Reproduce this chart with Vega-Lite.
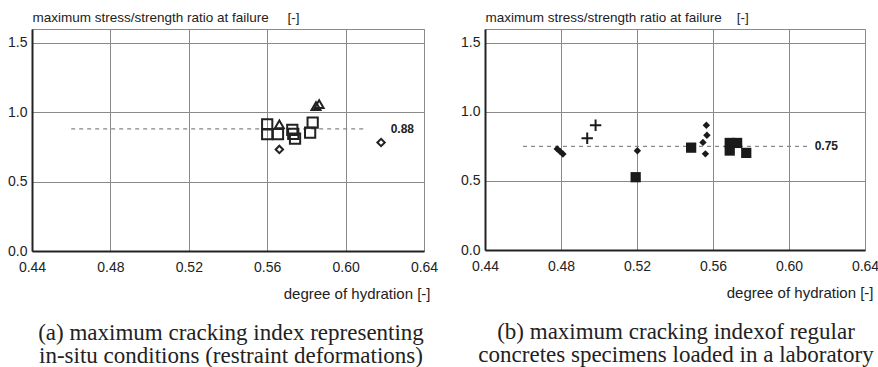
{
  "$schema": "https://vega.github.io/schema/vega-lite/v6.json",
  "padding": {"left": 7, "top": 9, "right": 0, "bottom": 0},
  "background": "white",
  "spacing": 61,
  "bounds": "flush",
  "config": {
    "view": {"stroke": "#8a8a8a", "strokeWidth": 1},
    "axis": {
      "labelFont": "Liberation Sans",
      "labelFontSize": 14,
      "labelColor": "#222",
      "titleFont": "Liberation Sans",
      "titleFontSize": 13.5,
      "titleFontWeight": "normal",
      "titleColor": "#222",
      "gridColor": "#8a8a8a",
      "gridWidth": 1,
      "gridOpacity": 1,
      "domainColor": "#222",
      "domainWidth": 2,
      "ticks": false,
      "labelPadding": 5,
      "labelFlush": false,
      "labelOverlap": false
    },
    "axisX": {"labelPadding": 9, "titleFontSize": 15},
    "title": {"font": "Liberation Serif", "fontSize": 23, "fontWeight": "normal", "color": "#222", "orient": "bottom", "anchor": "middle", "lineHeight": 23}
  },
  "hconcat": [
    {
      "width": 392,
      "height": 222,
      "title": {"text": ["(a) maximum cracking index representing", "in-situ conditions (restraint deformations)"], "dx": 3, "offset": 21},
      "layer": [
        {
          "data": {"values": [
            {"x": 0.46, "x2": 0.61, "y": 0.88}
          ]},
          "mark": {"type": "rule", "strokeDash": [4, 4], "color": "#888", "strokeWidth": 1.2},
          "encoding": {
            "x": {"field": "x", "type": "quantitative", "scale": {"domain": [0.44, 0.64]},
              "axis": {"values": [0.44, 0.48, 0.52, 0.56, 0.60, 0.64], "format": ".2f", "title": "degree of hydration [-]", "titleAlign": "right", "titleX": 398, "titleY": 47, "titleBaseline": "alphabetic"}},
            "x2": {"field": "x2"},
            "y": {"field": "y", "type": "quantitative", "scale": {"domain": [0, 1.5]},
              "axis": {"values": [0, 0.5, 1.0, 1.5], "format": ".1f", "title": "maximum stress/strength ratio at failure\u00a0\u00a0\u00a0\u00a0\u00a0[-]", "titleAngle": 0, "titleAlign": "left", "titleX": 0, "titleY": -8, "titleBaseline": "alphabetic"}}
          }
        },
        {
          "data": {"values": [
            {"x": 0.623, "y": 0.88, "label": "0.88"}
          ]},
          "mark": {"type": "text", "align": "left", "baseline": "middle", "font": "Liberation Sans", "fontSize": 12, "fontWeight": "bold", "color": "#222"},
          "encoding": {
            "x": {"field": "x", "type": "quantitative"},
            "y": {"field": "y", "type": "quantitative"},
            "text": {"field": "label"}
          }
        },
        {
          "data": {"values": [
            {"x": 0.56, "y": 0.912, "type": "square"},
            {"x": 0.56, "y": 0.842, "type": "square"},
            {"x": 0.5655, "y": 0.842, "type": "square"},
            {"x": 0.5728, "y": 0.873, "type": "square"},
            {"x": 0.5733, "y": 0.845, "type": "square"},
            {"x": 0.5742, "y": 0.81, "type": "square"},
            {"x": 0.5819, "y": 0.853, "type": "square"},
            {"x": 0.5832, "y": 0.925, "type": "square"},
            {"x": 0.5662, "y": 0.912, "type": "triangle"},
            {"x": 0.5849, "y": 1.045, "type": "triangle"},
            {"x": 0.5865, "y": 1.058, "type": "triangle"},
            {"x": 0.5662, "y": 0.732, "type": "diamond"},
            {"x": 0.6181, "y": 0.782, "type": "diamond"}
          ]},
          "mark": {"type": "point", "filled": false, "stroke": "#222", "strokeWidth": 2, "opacity": 1},
          "encoding": {
            "x": {"field": "x", "type": "quantitative"},
            "y": {"field": "y", "type": "quantitative"},
            "shape": {"field": "type", "type": "nominal", "scale": {"domain": ["square", "triangle", "diamond"], "range": ["square", "triangle-up", "diamond"]}, "legend": null},
            "size": {"field": "type", "type": "nominal", "scale": {"domain": ["square", "triangle", "diamond"], "range": [105, 55, 70]}, "legend": null}
          }
        }
      ]
    },
    {
      "width": 380,
      "height": 221,
      "title": {"text": ["(b) maximum cracking indexof regular", "concretes specimens loaded in a laboratory"], "dx": 1, "offset": 21},
      "layer": [
        {
          "data": {"values": [
            {"x": 0.46, "x2": 0.61, "y": 0.75}
          ]},
          "mark": {"type": "rule", "strokeDash": [4, 4], "color": "#888", "strokeWidth": 1.2},
          "encoding": {
            "x": {"field": "x", "type": "quantitative", "scale": {"domain": [0.44, 0.64]},
              "axis": {"values": [0.44, 0.48, 0.52, 0.56, 0.60, 0.64], "format": ".2f", "title": "degree of hydration [-]", "titleAlign": "right", "titleX": 388, "titleY": 47, "titleBaseline": "alphabetic"}},
            "x2": {"field": "x2"},
            "y": {"field": "y", "type": "quantitative", "scale": {"domain": [0, 1.5]},
              "axis": {"values": [0, 0.5, 1.0, 1.5], "format": ".1f", "title": "maximum stress/strength ratio at failure\u00a0\u00a0\u00a0\u00a0[-]", "titleAngle": 0, "titleAlign": "left", "titleX": 0, "titleY": -8, "titleBaseline": "alphabetic"}}
          }
        },
        {
          "data": {"values": [
            {"x": 0.6135, "y": 0.75, "label": "0.75"}
          ]},
          "mark": {"type": "text", "align": "left", "baseline": "middle", "font": "Liberation Sans", "fontSize": 12, "fontWeight": "bold", "color": "#222"},
          "encoding": {
            "x": {"field": "x", "type": "quantitative"},
            "y": {"field": "y", "type": "quantitative"},
            "text": {"field": "label"}
          }
        },
        {
          "data": {"values": [
            {"x": 0.4780, "y": 0.732, "type": "diamond"},
            {"x": 0.4795, "y": 0.714, "type": "diamond"},
            {"x": 0.4810, "y": 0.695, "type": "diamond"},
            {"x": 0.5202, "y": 0.718, "type": "diamond"},
            {"x": 0.5565, "y": 0.903, "type": "diamond"},
            {"x": 0.5568, "y": 0.831, "type": "diamond"},
            {"x": 0.5547, "y": 0.779, "type": "diamond"},
            {"x": 0.5560, "y": 0.696, "type": "diamond"},
            {"x": 0.5193, "y": 0.527, "type": "square"},
            {"x": 0.5485, "y": 0.741, "type": "square"},
            {"x": 0.5688, "y": 0.775, "type": "square"},
            {"x": 0.5727, "y": 0.775, "type": "square"},
            {"x": 0.5688, "y": 0.720, "type": "square"},
            {"x": 0.5775, "y": 0.703, "type": "square"}
          ]},
          "mark": {"type": "point", "filled": true, "fill": "#1a1a1a", "opacity": 1},
          "encoding": {
            "x": {"field": "x", "type": "quantitative"},
            "y": {"field": "y", "type": "quantitative"},
            "shape": {"field": "type", "type": "nominal", "scale": {"domain": ["square", "diamond"], "range": ["square", "diamond"]}, "legend": null},
            "size": {"field": "type", "type": "nominal", "scale": {"domain": ["square", "diamond"], "range": [135, 110]}, "legend": null}
          }
        },
        {
          "data": {"values": [
            {"x": 0.4938, "y": 0.809, "type": "plus"},
            {"x": 0.4982, "y": 0.903, "type": "plus"}
          ]},
          "mark": {"type": "point", "filled": false, "shape": "M-1,0H1M0,-1V1", "size": 130, "stroke": "#1a1a1a", "strokeWidth": 2, "opacity": 1},
          "encoding": {
            "x": {"field": "x", "type": "quantitative"},
            "y": {"field": "y", "type": "quantitative"}
          }
        }
      ]
    }
  ]
}
